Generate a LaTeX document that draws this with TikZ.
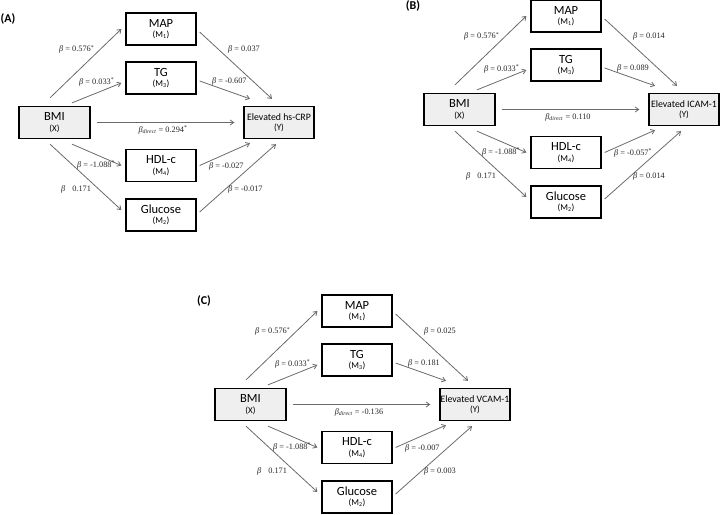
\documentclass[tikz,border=0pt]{standalone}
\usepackage{fontspec}
\setmainfont{Liberation Serif}
\newfontfamily\boxfont{Carlito}
\usetikzlibrary{arrows.meta,calc}
\definecolor{boxgray}{HTML}{EFEFEF}
\definecolor{arrgray}{HTML}{6A6A6A}
\newcommand\smallbx{\fontsize{9}{9}\selectfont}
\tikzset{
  mbox/.style={draw=black, line width=1.3pt, fill=white, minimum width=70pt,
    minimum height=32pt, inner sep=0pt, align=center,
    font=\boxfont\fontsize{12.5}{10.5}\selectfont},
  gbox/.style={mbox, fill=boxgray},
  ybox/.style={gbox, font=\boxfont\fontsize{9.8}{10.5}\selectfont},
  arr/.style={draw=arrgray, line width=0.8pt, -{Straight Barb[length=3.5pt,width=5pt]}},
  coef/.style={font=\fontsize{8.3}{9}\selectfont, inner sep=0pt, anchor=west, text=black!85},
  plabel/.style={font=\boxfont\bfseries\fontsize{12}{12}\selectfont, inner sep=0pt}
}
% #1 letter, #2 outcome, #3 direct, #4 MAP->Y, #5 TG->Y, #6 HDL->Y, #7 Glucose->Y
\newcommand\medpanel[7]{%
  \node[plabel] (lab) at (8,19) {(#1)};
  \node[gbox, minimum width=71pt] (X) at (54.5,122.5) {BMI\\{\smallbx (X)}};
  \node[mbox] (M1) at (161,29) {MAP\\{\smallbx (M\textsubscript{1})}};
  \node[mbox] (M3) at (161,78) {TG\\{\smallbx (M\textsubscript{3})}};
  \node[mbox] (M4) at (161,165.5) {HDL-c\\{\smallbx (M\textsubscript{4})}};
  \node[mbox] (M2) at (161,215) {Glucose\\{\smallbx (M\textsubscript{2})}};
  \node[ybox] (Y) at (279,122.5) {#2\\{\smallbx (Y)}};
  % arrows
  \draw[arr] ($(X.north)+(-4.5,-8)$) -- ($(M1.west)+(-4,0)$);
  \draw[arr] ($(X.north)+(17.5,-3)$) -- ($(M3.west)+(-4,5)$);
  \draw[arr] ($(X.east)+(6,0)$) -- ($(Y.west)+(-9,0)$);
  \draw[arr] ($(X.south)+(17.5,5)$) -- ($(M4.west)+(-4,0)$);
  \draw[arr] ($(X.south)+(-4.5,5)$) -- ($(M2.west)+(-4,-5)$);
  \draw[arr] ($(M1.east)+(3,3)$) -- ($(Y.north)+(-7,-7)$);
  \draw[arr] ($(M3.east)+(3,3)$) -- ($(Y.north)+(-29,-7)$);
  \draw[arr] ($(M4.east)+(3,0)$) -- ($(Y.south)+(-29,4)$);
  \draw[arr] ($(M2.east)+(3,-3)$) -- ($(Y.south)+(-3,5)$);
  % coefficients
  \node[coef] (a1) at (59,49.5) {\textit{β} = 0.576\textsuperscript{*}};
  \node[coef] (a3) at (79,82) {\textit{β} = 0.033\textsuperscript{*}};
  \node[coef] (a4) at (77,165) {\textit{β} = -1.088\textsuperscript{*}};
  \node[coef] (a2) at (61,189) {\textit{β}\hspace{7pt}0.171};
  \node[coef, anchor=center] (cd) at (163,130) {\textit{β}\textsubscript{\textit{direct}} = #3};
  \node[coef] (b1) at (228,49.5) {\textit{β} = #4};
  \node[coef] (b3) at (212,81) {\textit{β} = #5};
  \node[coef] (b4) at (209,166) {\textit{β} = #6};
  \node[coef] (b2) at (228,189) {\textit{β} = #7};
}
\begin{document}
\begin{tikzpicture}[x=1pt, y=-1pt]
\useasboundingbox (0,0) rectangle (720,514);
\begin{scope}[name prefix=A-]
  \medpanel{A}{Elevated hs-CRP}{0.294\textsuperscript{*}}{0.037}{-0.607}{-0.027}{-0.017}
\end{scope}
\begin{scope}[shift={(405,-13)}, name prefix=B-]
  \medpanel{B}{Elevated ICAM-1}{0.110}{0.014}{0.089}{-0.057\textsuperscript{*}}{0.014}
\end{scope}
\begin{scope}[shift={(196,282)}, name prefix=C-]
  \medpanel{C}{Elevated VCAM-1}{-0.136}{0.025}{0.181}{-0.007}{0.003}
\end{scope}
\end{tikzpicture}
\end{document}
